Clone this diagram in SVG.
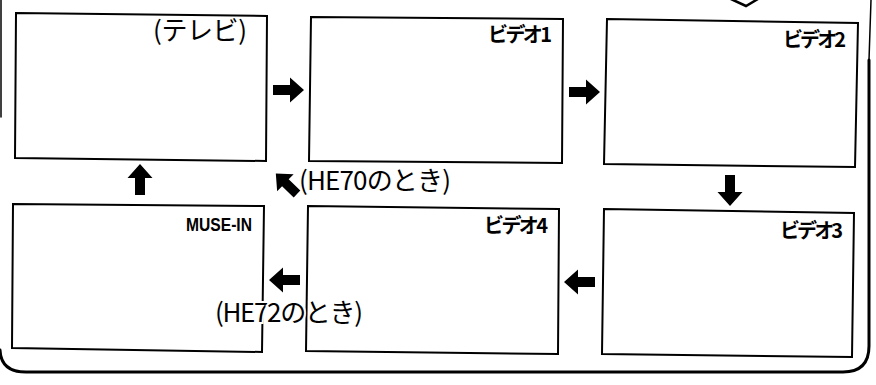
<svg xmlns="http://www.w3.org/2000/svg" width="876" height="385" viewBox="0 0 876 385">
<style>
.box{fill:#fff;stroke:#000;stroke-width:2;stroke-linejoin:miter}
.frame{fill:none;stroke:#000;stroke-linecap:round}
.lbl{font-family:"Noto Sans CJK JP","Liberation Sans",sans-serif;font-weight:bold;font-size:20px;fill:#000}
.lat{font-family:"Liberation Sans","Noto Sans CJK JP",sans-serif;font-weight:bold;font-size:19px;fill:#000}
.note{font-family:"Noto Sans CJK JP","Liberation Sans",sans-serif;font-size:26px;fill:#000}
.arr{fill:#000}
</style>
<defs>
<path id="blk" d="M0,-5 H17 V-12.5 L31,0 L17,12.5 V5 H0 Z"/>
</defs>
<rect width="876" height="385" fill="#fff"/>
<g id="frame">
<path class="frame" d="M1,0 V117" stroke-width="1.5"/>
<path class="frame" d="M0,350 Q1,372 26,372 H843 Q869,372 869,346 V60" stroke-width="3"/>
<path class="frame" d="M869,60 L871,0" stroke-width="1.5"/>
<polyline class="frame" points="731,-1 746,6 758,-1" stroke-width="2.5" stroke-linejoin="miter"/>
</g>
<g id="connectors">
<use href="#blk" class="arr" transform="translate(273,90)"/>
<use href="#blk" class="arr" transform="translate(569,92)"/>
<use href="#blk" class="arr" transform="translate(730,175) rotate(90)"/>
<use href="#blk" class="arr" transform="translate(140,195) rotate(-90)"/>
<use href="#blk" class="arr" transform="translate(300,280) rotate(180)"/>
<use href="#blk" class="arr" transform="translate(595,282) rotate(180)"/>
<use href="#blk" class="arr" transform="translate(297,194) rotate(-136) scale(0.95)"/>
</g>
<g id="node-tv">
<polygon class="box" points="16,13 267,16 266,161 15,158"/>
<text class="note" x="153" y="40" textLength="94">(テレビ)</text>
</g>
<g id="node-video1">
<polygon class="box" points="311,17 563,19 562,163 309,161"/>
<text class="lbl" x="488" y="42" textLength="64">ビデオ1</text>
</g>
<g id="node-video2">
<polygon class="box" points="607,19 858,23 855,167 604,164"/>
<text class="lbl" x="783" y="47" textLength="63">ビデオ2</text>
</g>
<g id="node-muse">
<polygon class="box" points="13,204 264,206 262,352 12,348"/>
<text class="lat" x="186" y="231" textLength="66" lengthAdjust="spacingAndGlyphs">MUSE-IN</text>
</g>
<g id="node-video4">
<polygon class="box" points="308,206 559,209 558,354 306,351"/>
<text class="lbl" x="484" y="233" textLength="64">ビデオ4</text>
</g>
<g id="node-video3">
<polygon class="box" points="604,209 854,213 852,357 602,354"/>
<text class="lbl" x="780" y="238" textLength="63">ビデオ3</text>
</g>
<g id="notes">
<text class="note" x="299" y="190" textLength="152">(HE70のとき)</text>
<text class="note" x="215" y="322" textLength="148" stroke="#fff" stroke-width="4" paint-order="stroke">(HE72のとき)</text>
</g>
</svg>
